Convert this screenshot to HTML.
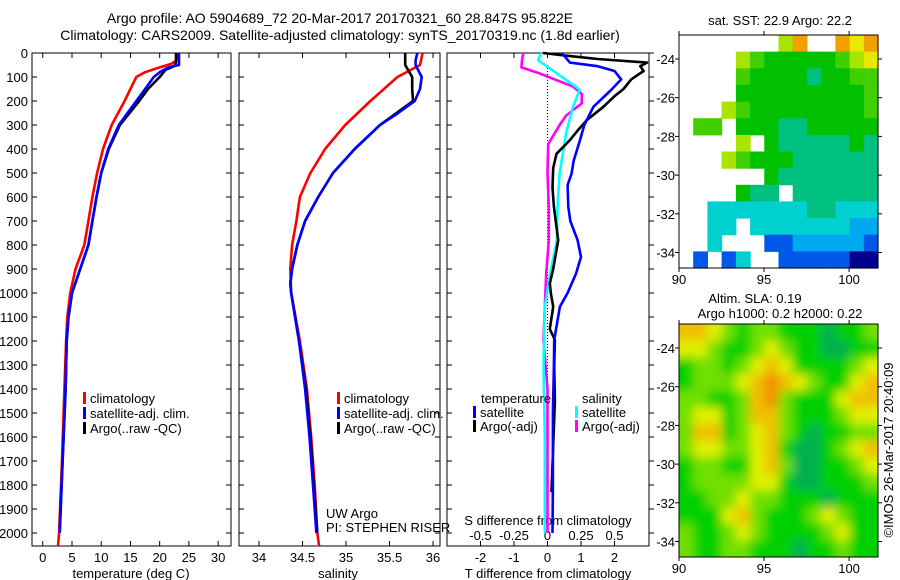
<!DOCTYPE html>
<html><head><meta charset="utf-8">
<style>
html,body{margin:0;padding:0;background:#fff;}
svg{display:block;font-family:"Liberation Sans",sans-serif;}
text{fill:#000;}
</style></head>
<body>
<svg id="c" width="900" height="580" viewBox="0 0 900 580" xmlns="http://www.w3.org/2000/svg">
<defs>
<filter id="blur" x="0" y="0" width="1" height="1"><feGaussianBlur stdDeviation="5"/></filter>
<clipPath id="clipSla"><rect x="679" y="324" width="199" height="233"/></clipPath>
</defs>
<text x="340" y="23" font-size="14" text-anchor="middle">Argo profile: AO 5904689_72 20-Mar-2017 20170321_60 28.847S 95.822E</text>
<text x="340" y="40" font-size="14" text-anchor="middle">Climatology: CARS2009. Satellite-adjusted climatology: synTS_20170319.nc (1.8d earlier)</text>
<g id="g"></g>
</svg>
<script>
// ---------- data ----------
var depthTicks=[0,100,200,300,400,500,600,700,800,900,1000,1100,1200,1300,1400,1500,1600,1700,1800,1900,2000];
var tempTicks=[0,5,10,15,20,25,30];
var salTicks=[34,34.5,35,35.5,36];
var tdTicks=[-2,-1,0,1,2];
var sdTicks=[-0.5,-0.25,0,0.25,0.5];
var sdTickLabels=["-0.5","-0.25","0","0.25","0.5"];

var tClimDepth=[0,30,45,60,80,100,150,200,300,400,500,600,700,800,900,1000,1100,1200,1400,1700,2000,2054];
var tClimVal  =[23,22.9,22,20,17.5,16,15,14,11.8,10.3,9.3,8.5,7.8,7.1,5.6,4.7,4.2,4.0,3.7,3.3,2.8,2.6];
var tSatDepth=[0,50,60,80,100,150,200,300,400,500,600,700,800,900,1000,1100,1200,1400,1700,2000];
var tSatVal  =[23.3,23.3,21.5,20,19,17.5,16,13,11.2,10,9.2,8.5,7.8,6.4,5,4.4,4.1,3.9,3.4,2.9];
var tArgoDepth=[0,40,55,70,100,150,200,300,400,500,600,700,800,900,1000,1100,1200,1400,1700,2000];
var tArgoVal  =[22.8,22.8,22.5,21,20,18,16.5,13.2,11.3,10,9.2,8.5,7.8,6.4,5,4.4,4.1,3.9,3.4,2.9];

var sClimDepth=[0,50,100,200,300,400,500,600,700,800,900,1000,1200,1400,1600,1800,2000,2054];
var sClimVal  =[35.88,35.85,35.59,35.28,34.99,34.76,34.59,34.47,34.43,34.38,34.36,34.37,34.47,34.55,34.6,34.64,34.67,34.69];
var sSatDepth=[0,30,50,100,150,200,250,300,400,500,600,700,800,900,960,1000,1200,1400,1600,1800,2000];
var sSatVal  =[35.82,35.8,35.8,35.87,35.85,35.79,35.6,35.39,35.1,34.85,34.68,34.53,34.44,34.38,34.36,34.37,34.46,34.53,34.58,34.62,34.66];
var sArgoDepth=[0,50,100,150,200,250,300,400,500,600,700,800,900,960,1000,1200,1400,1600,1800,2000];
var sArgoVal  =[35.68,35.68,35.76,35.76,35.77,35.58,35.39,35.1,34.85,34.68,34.53,34.44,34.38,34.36,34.37,34.46,34.54,34.59,34.63,34.67];

var tdSatDepth=[0,20,40,55,75,110,154,224,300,363,450,502,550,641,700,780,850,919,1000,1057,1196,1307,1500,1800,2000];
var tdSatVal  =[0.42,0.55,0.67,1.5,2.0,2.2,1.9,1.37,1.1,0.97,0.78,0.72,0.6,0.62,0.68,0.9,1.0,0.85,0.6,0.37,0.2,0.19,0.16,0.16,0.15];
var tdArgoDepth=[0,10,25,40,55,75,110,150,180,224,280,320,363,420,480,560,641,780,900,960,1000,1057,1150,1196,1307,1450,1600,1830];
var tdArgoVal  =[-0.13,0.5,1.5,2.97,2.77,2.87,2.5,2.27,2.0,1.67,1.17,0.92,0.67,0.27,0.17,0.15,0.19,0.32,0.17,0.07,0.1,0.17,0.07,0.22,0.2,0.22,0.18,0.12];
var sdSatDepth=[0,15,30,85,140,154,224,330,502,641,780,919,1057,1307,1600,2000];
var sdSatVal  =[-0.045,-0.06,-0.07,0.07,0.21,0.24,0.19,0.14,0.09,0.075,0.07,0.02,-0.02,-0.03,-0.02,-0.02];
var sdArgoDepth=[0,30,60,85,140,170,210,260,300,380,500,641,780,919,1057,1196,1400,1700,2000];
var sdArgoVal  =[-0.18,-0.19,-0.195,-0.06,0.19,0.255,0.255,0.14,0.09,0.005,0.0,0.01,0.01,-0.01,-0.02,-0.03,0.0,0.0,0.0];

var lonTicks=[90,95,100];
var latTicks=[-24,-26,-28,-30,-32,-34];
var sstRows=[
".......79..989",
"....7655555678",
"....6555545566",
"....5555555556",
"...76555555556",
".66.5554455555",
"....7.54444454",
"...76555444444",
"......54444444",
"....544.444444",
"..333333344333",
"..33.333333322",
"..3...11222221",
".1.13..1111100"];
var slaRows=[
"44321221110112",
"33211232110011",
"12212343111123",
"12223454321134",
"22112452111344",
"23312442111233",
"24412342101122",
"23322341001234",
"12211342001123",
"12222331001112",
"11223221110111",
"11134211123211",
"21123211112311",
"21122111011211"];
var sstColors=["#000090","#0058e8","#00a8f0","#00d0d0","#00c080","#00c000","#40d000","#a8e400","#e8e800","#f0a000"];
var slaColors=["#00b050","#00d000","#70e000","#e0f000","#f0c000","#f09000"];

// ---------- helpers ----------
var NS="http://www.w3.org/2000/svg";
var G=document.getElementById('g');
function mk(tag,attrs,parent){var e=document.createElementNS(NS,tag);for(var k in attrs)e.setAttribute(k,attrs[k]);(parent||G).appendChild(e);return e;}
function txt(x,y,s,size,anchor,parent){var t=mk('text',{x:x,y:y,'font-size':size||13,'text-anchor':anchor||'middle'},parent);t.textContent=s;return t;}
var Y0=53,YS=0.24,YB=546;
function yD(d){return Y0+d*YS;}

var panels=[
 {x0:32,x1:231,vmin:-1.84,vmax:32.2,name:'temperature-panel'},
 {x0:239,x1:440,vmin:33.77,vmax:36.08,name:'salinity-panel'},
 {x0:447,x1:649,vmin:-3.0,vmax:3.03,name:'difference-panel'}
];
function xf(p,v){return p.x0+(v-p.vmin)/(p.vmax-p.vmin)*(p.x1-p.x0);}

panels.forEach(function(p,i){
 var g=mk('g',{});
 
 
 var r=mk('rect',{x:p.x0,y:Y0,width:p.x1-p.x0,height:YB-Y0,fill:'none',stroke:'#000','stroke-width':1},g);
 
 
 depthTicks.forEach(function(d){
  var y=yD(d);
  mk('line',{x1:p.x0,y1:y,x2:p.x0+5,y2:y,stroke:'#000'},g);
  if(i<2) mk('line',{x1:p.x1,y1:y,x2:p.x1-5,y2:y,stroke:'#000'},g);
  else mk('line',{x1:p.x1,y1:y,x2:p.x1+5,y2:y,stroke:'#000'},g);
 });
});
depthTicks.forEach(function(d){
 var t=txt(28,yD(d)+5,String(d),13,'end');
 
 
});
function xTicks(p,ticks,labels,ly){
 ticks.forEach(function(v,k){
  var x=xf(p,v);
  mk('line',{x1:x,y1:YB,x2:x,y2:YB-5,stroke:'#000'});
  mk('line',{x1:x,y1:Y0,x2:x,y2:Y0+5,stroke:'#000'});
  var t=txt(x,ly,labels?labels[k]:String(v),13,'middle');
  
  
 });
}
xTicks(panels[0],tempTicks,null,562);
xTicks(panels[1],salTicks,null,562);
xTicks(panels[2],tdTicks,null,562);
var sp={x0:447,x1:649,vmin:-3.0/4,vmax:3.03/4};
sdTicks.forEach(function(v,k){
 var t=txt(xf(sp,v),540,sdTickLabels[k],13,'middle');
 
 
});
var a1=txt(131,578,'temperature (deg C)',13);
var a2=txt(338,578,'salinity',13);
var a3=txt(548,578,'T difference from climatology',13);
var a4=txt(548,525,'S difference from climatology',13);
var zl=mk('line',{x1:xf(panels[2],0),y1:Y0+12,x2:xf(panels[2],0),y2:yD(2000),stroke:'#000','stroke-dasharray':'1,2'});



function line(p,depths,vals,color,name){
 var pts=depths.map(function(d,k){return xf(p,vals[k]).toFixed(1)+','+yD(d).toFixed(1);}).join(' ');
 var e=mk('polyline',{points:pts,fill:'none',stroke:color,'stroke-width':2.6,'stroke-linejoin':'round'});
 
 
}
line(panels[0],tClimDepth,tClimVal,'#ff0000','temp-climatology-line');
line(panels[0],tArgoDepth,tArgoVal,'#000000','temp-argo-line');
line(panels[0],tSatDepth,tSatVal,'#0000ff','temp-satellite-line');
line(panels[1],sClimDepth,sClimVal,'#ff0000','sal-climatology-line');
line(panels[1],sArgoDepth,sArgoVal,'#000000','sal-argo-line');
line(panels[1],sSatDepth,sSatVal,'#0000ff','sal-satellite-line');
line(sp,sdArgoDepth,sdArgoVal,'#ff00ff','sdiff-argo-line');
line(sp,sdSatDepth,sdSatVal,'#00ffff','sdiff-satellite-line');
line(panels[2],tdArgoDepth,tdArgoVal,'#000000','tdiff-argo-line');
line(panels[2],tdSatDepth,tdSatVal,'#0000ff','tdiff-satellite-line');

function legendItem(x,y,color,label,name){
 var r=mk('rect',{x:x,y:y-11,width:3,height:12,fill:color});
 
 
 var t=txt(x+7,y,label,13,'start');
 
 
}
legendItem(83,403,'#ff0000','climatology','legend-climatology');
legendItem(83,418,'#0000ff','satellite-adj. clim.','legend-satellite-adj');
legendItem(83,433,'#000000','Argo(..raw -QC)','legend-argo');
legendItem(337,403,'#ff0000','climatology','legend-climatology-2');
legendItem(337,418,'#0000ff','satellite-adj. clim.','legend-satellite-adj-2');
legendItem(337,433,'#000000','Argo(..raw -QC)','legend-argo-2');
var lt=txt(481,403,'temperature',13,'start');
var ls=txt(582,403,'salinity',13,'start');
legendItem(473,417,'#0000ff','satellite','legend-t-satellite');
legendItem(473,431,'#000000','Argo(-adj)','legend-t-argo');
legendItem(575,417,'#00ffff','satellite','legend-s-satellite');
legendItem(575,431,'#ff00ff','Argo(-adj)','legend-s-argo');
var u1=txt(326,518,'UW Argo',13,'start');
var u2=txt(326,532,'PI: STEPHEN RISER',13,'start');

function mapPanel(top,rows,colors,name,blur){
 var L=679,R=878,T=top,B=top+233;
 var lonMin=90,lonMax=101.7,latMax=-22.76,latMin=-34.8;
 function mx(lon){return L+(lon-lonMin)/(lonMax-lonMin)*(R-L);}
 function my(lat){return T+(latMax-lat)/(latMax-latMin)*(B-T);}
 var g=mk('g',{});
 
 
 var inner=mk('g',blur?{filter:'url(#blur)'}:{},blur?mk('g',{'clip-path':'url(#clipSla)'},g):g);
 var nr=rows.length,nc=rows[0].length,cw=(R-L)/nc,ch=(B-T)/nr;
 var pad=blur?12:0;
 rows.forEach(function(row,ri){
  for(var ci=0;ci<nc;ci++){
   var c=row[ci]; if(c==='.')continue;
   var x=L+ci*cw,y=T+ri*ch;
   var w=cw+0.6,h=ch+0.6;
   if(blur){if(ci===0){x-=pad;w+=pad;}if(ci===nc-1)w+=pad;if(ri===0){y-=pad;h+=pad;}if(ri===nr-1)h+=pad;}
   var r=mk('rect',{x:x.toFixed(1),y:y.toFixed(1),width:w.toFixed(1),height:h.toFixed(1),fill:colors[+c]},inner);
   
   
  }
 });
 mk('rect',{x:L,y:T,width:R-L,height:B-T,fill:'none',stroke:'#000'},g);
 lonTicks.forEach(function(v){
  var x=mx(v);
  mk('line',{x1:x,y1:B,x2:x,y2:B+4,stroke:'#000'},g);
  mk('line',{x1:x,y1:T,x2:x,y2:T-4,stroke:'#000'},g);
  var t=txt(x,B+16,String(v),13,'middle',g);
  
  
 });
 latTicks.forEach(function(v){
  var y=my(v);
  mk('line',{x1:L,y1:y,x2:L-4,y2:y,stroke:'#000'},g);
  mk('line',{x1:R,y1:y,x2:R+4,y2:y,stroke:'#000'},g);
  var t=txt(L-4,y+5,String(v),13,'end',g);
  
  
 });
}
mapPanel(35,sstRows,sstColors,'sst-map',false);
mapPanel(324,slaRows,slaColors,'sla-map',true);
var m1=txt(780,25,'sat. SST: 22.9 Argo: 22.2',13);
var m2=txt(755,303,'Altim. SLA: 0.19',13);
var m3=txt(780,318,'Argo h1000: 0.2 h2000: 0.22',13);
var cp=txt(0,0,'©IMOS 26-Mar-2017 20:40:09',13,'middle');
cp.setAttribute('transform','translate(893,450) rotate(-90)');


</script>
</body></html>
